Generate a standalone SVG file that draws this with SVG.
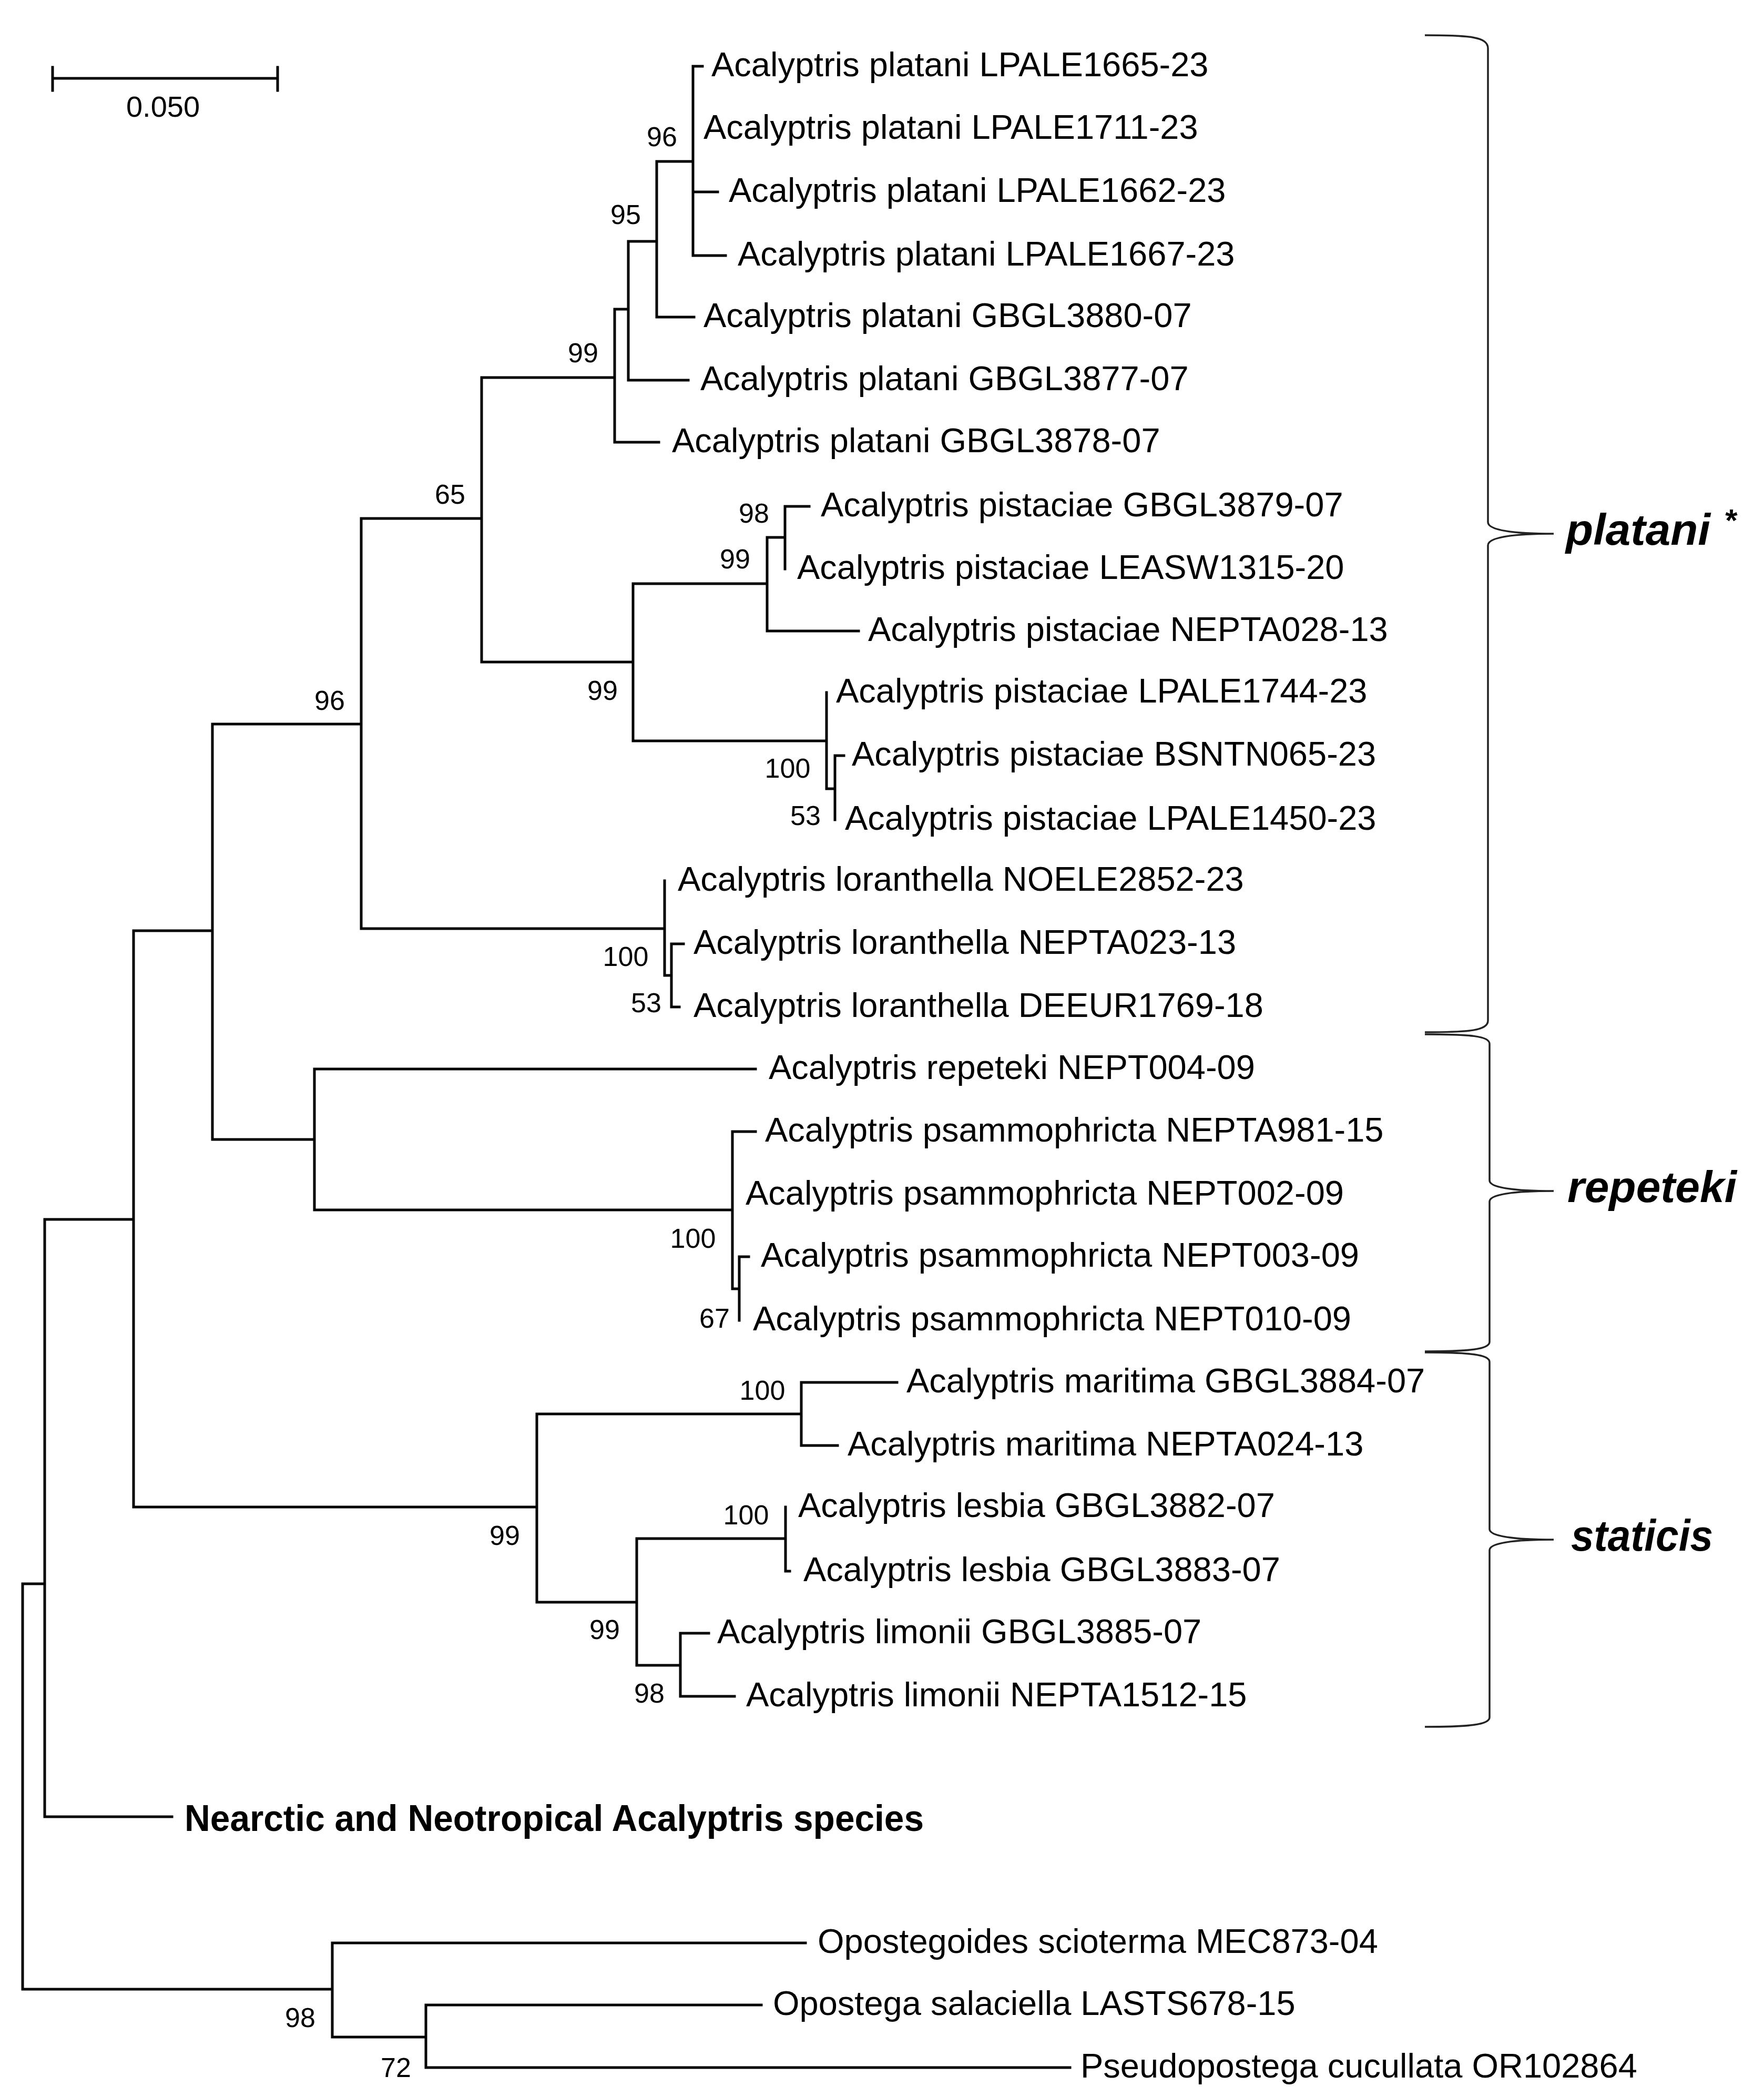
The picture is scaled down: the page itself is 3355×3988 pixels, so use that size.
<svg xmlns="http://www.w3.org/2000/svg" width="3355" height="3988" viewBox="0 0 3355 3988">
<style>
.tip{font-family:"Liberation Sans",Arial,sans-serif;font-size:65px;fill:#000}
.bs{font-family:"Liberation Sans",Arial,sans-serif;font-size:52px;fill:#000;text-anchor:middle}
.clade{font-family:"Liberation Sans",Arial,sans-serif;font-size:84px;font-weight:bold;font-style:italic;fill:#000}
.br{fill:none;stroke:#000;stroke-width:5;stroke-linecap:square}
.brace{fill:none;stroke:#222;stroke-width:3.5}
</style>
<rect width="3355" height="3988" fill="#fff"/>
<g id="scale-bar">
<path class="br" d="M100 149 H528 M100 128 V172 M528 128 V172" stroke-linecap="butt"/>
<text class="bs" x="310" y="222" style="font-size:56px">0.050</text>
</g>
<g id="connectors">
<path class="br" d="M43 3012 V3783 M43 3012 H85 M43 3783 H632
M85 2319 V3455 M85 2319 H254 M85 3455 H327
M254 1770 V2866 M254 1770 H404 M254 2866 H1021
M404 1377 V2167 M404 1377 H687 M404 2167 H598
M598 2033 V2301 M598 2033 H1437 M598 2301 H1393
M1393 2152 V2451 M1393 2152 H1437 M1393 2451 H1406
M1406 2390 V2511 M1406 2390 H1424
M687 986 V1766 M687 986 H916 M687 1766 H1264
M1264 1675 V1855 M1264 1855 H1277
M1277 1795 V1915 M1277 1795 H1300 M1277 1915 H1292
M916 718 V1259 M916 718 H1169 M916 1259 H1204
M1169 588 V841 M1169 588 H1195 M1169 841 H1253
M1195 459 V723 M1195 459 H1249 M1195 723 H1309
M1249 307 V603 M1249 307 H1318 M1249 603 H1320
M1318 126 V486 M1318 126 H1336 M1318 365 H1365 M1318 486 H1380
M1204 1110 V1409 M1204 1110 H1459 M1204 1409 H1572
M1459 1022 V1200 M1459 1022 H1493 M1459 1200 H1633
M1493 963 V1082 M1493 963 H1539
M1572 1317 V1500 M1572 1500 H1588
M1588 1437 V1559 M1588 1437 H1605
M1021 2689 V3047 M1021 2689 H1524 M1021 3047 H1211
M1524 2629 V2749 M1524 2629 H1706 M1524 2749 H1593
M1211 2926 V3167 M1211 2926 H1494 M1211 3167 H1294
M1494 2866 V2988 M1494 2988 H1502
M1294 3106 V3226 M1294 3106 H1348 M1294 3226 H1397
M632 3695 V3874 M632 3695 H1532 M632 3874 H810
M810 3813 V3932 M810 3813 H1448 M810 3932 H2035"/>
</g>
<g id="tips">
<g id="t01"><text class="tip" x="1353" y="145">Acalyptris platani LPALE1665-23</text></g>
<g id="t02"><text class="tip" x="1338" y="264">Acalyptris platani LPALE1711-23</text></g>
<g id="t03"><text class="tip" x="1386" y="384">Acalyptris platani LPALE1662-23</text></g>
<g id="t04"><text class="tip" x="1403" y="505">Acalyptris platani LPALE1667-23</text></g>
<g id="t05"><text class="tip" x="1338" y="622">Acalyptris platani GBGL3880-07</text></g>
<g id="t06"><text class="tip" x="1332" y="742">Acalyptris platani GBGL3877-07</text></g>
<g id="t07"><text class="tip" x="1278" y="860">Acalyptris platani GBGL3878-07</text></g>
<g id="t08"><text class="tip" x="1561" y="982">Acalyptris pistaciae GBGL3879-07</text></g>
<g id="t09"><text class="tip" x="1516" y="1101">Acalyptris pistaciae LEASW1315-20</text></g>
<g id="t10"><text class="tip" x="1651" y="1219">Acalyptris pistaciae NEPTA028-13</text></g>
<g id="t11"><text class="tip" x="1590" y="1336">Acalyptris pistaciae LPALE1744-23</text></g>
<g id="t12"><text class="tip" x="1620" y="1456">Acalyptris pistaciae BSNTN065-23</text></g>
<g id="t13"><text class="tip" x="1607" y="1578">Acalyptris pistaciae LPALE1450-23</text></g>
<g id="t14"><text class="tip" x="1289" y="1694">Acalyptris loranthella NOELE2852-23</text></g>
<g id="t15"><text class="tip" x="1319" y="1814">Acalyptris loranthella NEPTA023-13</text></g>
<g id="t16"><text class="tip" x="1319" y="1934">Acalyptris loranthella DEEUR1769-18</text></g>
<g id="t17"><text class="tip" x="1462" y="2052">Acalyptris repeteki NEPT004-09</text></g>
<g id="t18"><text class="tip" x="1455" y="2171">Acalyptris psammophricta NEPTA981-15</text></g>
<g id="t19"><text class="tip" x="1418" y="2291">Acalyptris psammophricta NEPT002-09</text></g>
<g id="t20"><text class="tip" x="1447" y="2409">Acalyptris psammophricta NEPT003-09</text></g>
<g id="t21"><text class="tip" x="1432" y="2530">Acalyptris psammophricta NEPT010-09</text></g>
<g id="t22"><text class="tip" x="1724" y="2648">Acalyptris maritima GBGL3884-07</text></g>
<g id="t23"><text class="tip" x="1612" y="2768">Acalyptris maritima NEPTA024-13</text></g>
<g id="t24"><text class="tip" x="1518" y="2885">Acalyptris lesbia GBGL3882-07</text></g>
<g id="t25"><text class="tip" x="1528" y="3007">Acalyptris lesbia GBGL3883-07</text></g>
<g id="t26"><text class="tip" x="1364" y="3125">Acalyptris limonii GBGL3885-07</text></g>
<g id="t27"><text class="tip" x="1419" y="3245">Acalyptris limonii NEPTA1512-15</text></g>
<g id="nearctic"><text x="351" y="3482" textLength="1406" lengthAdjust="spacingAndGlyphs" style="font-family:'Liberation Sans',Arial,sans-serif;font-size:70px;font-weight:bold">Nearctic and Neotropical Acalyptris species</text></g>
<g id="t28"><text class="tip" x="1555" y="3714">Opostegoides scioterma MEC873-04</text></g>
<g id="t29"><text class="tip" x="1470" y="3832">Opostega salaciella LASTS678-15</text></g>
<g id="t30"><text class="tip" x="2055" y="3951">Pseudopostega cucullata OR102864</text></g>
</g>
<g id="support">
<text class="bs" x="1259" y="278">96</text>
<text class="bs" x="1190" y="426">95</text>
<text class="bs" x="1109" y="689">99</text>
<text class="bs" x="856" y="958">65</text>
<text class="bs" x="1434" y="994">98</text>
<text class="bs" x="1398" y="1081">99</text>
<text class="bs" x="1146" y="1331">99</text>
<text class="bs" x="627" y="1350">96</text>
<text class="bs" x="1498" y="1479">100</text>
<text class="bs" x="1532" y="1569">53</text>
<text class="bs" x="1190" y="1837">100</text>
<text class="bs" x="1229" y="1925">53</text>
<text class="bs" x="1318" y="2373">100</text>
<text class="bs" x="1359" y="2525">67</text>
<text class="bs" x="1450" y="2662">100</text>
<text class="bs" x="960" y="2938">99</text>
<text class="bs" x="1419" y="2899">100</text>
<text class="bs" x="1150" y="3117">99</text>
<text class="bs" x="1235" y="3238">98</text>
<text class="bs" x="571" y="3855">98</text>
<text class="bs" x="753" y="3950">72</text>
</g>
<g id="clade-platani">
<path class="brace" d="M2710 67 C2795 67 2830 70 2830 92 L2830 993 C2830 1009 2880 1015 2955 1015 C2880 1015 2830 1021 2830 1037 L2830 1941 C2830 1960 2795 1963 2710 1963"/>
<text class="clade" x="2978" y="1036" textLength="275" lengthAdjust="spacingAndGlyphs">platani</text>
<text x="3293" y="1010" text-anchor="middle" style="font-family:'Liberation Sans',Arial,sans-serif;font-size:60px;font-weight:bold">*</text>
</g>
<g id="clade-repeteki">
<path class="brace" d="M2710 1967 C2795 1967 2833 1970 2833 1985 L2833 2245 C2833 2259 2880 2265 2955 2265 C2880 2265 2833 2271 2833 2285 L2833 2552 C2833 2566 2795 2570 2710 2570"/>
<text class="clade" x="2981" y="2286" textLength="322" lengthAdjust="spacingAndGlyphs">repeteki</text>
</g>
<g id="clade-staticis">
<path class="brace" d="M2710 2572 C2795 2572 2833 2576 2833 2590 L2833 2908 C2833 2922 2880 2928 2955 2928 C2880 2928 2833 2934 2833 2948 L2833 3266 C2833 3280 2795 3284 2710 3284"/>
<text class="clade" x="2988" y="2949" textLength="270" lengthAdjust="spacingAndGlyphs">staticis</text>
</g>
</svg>
